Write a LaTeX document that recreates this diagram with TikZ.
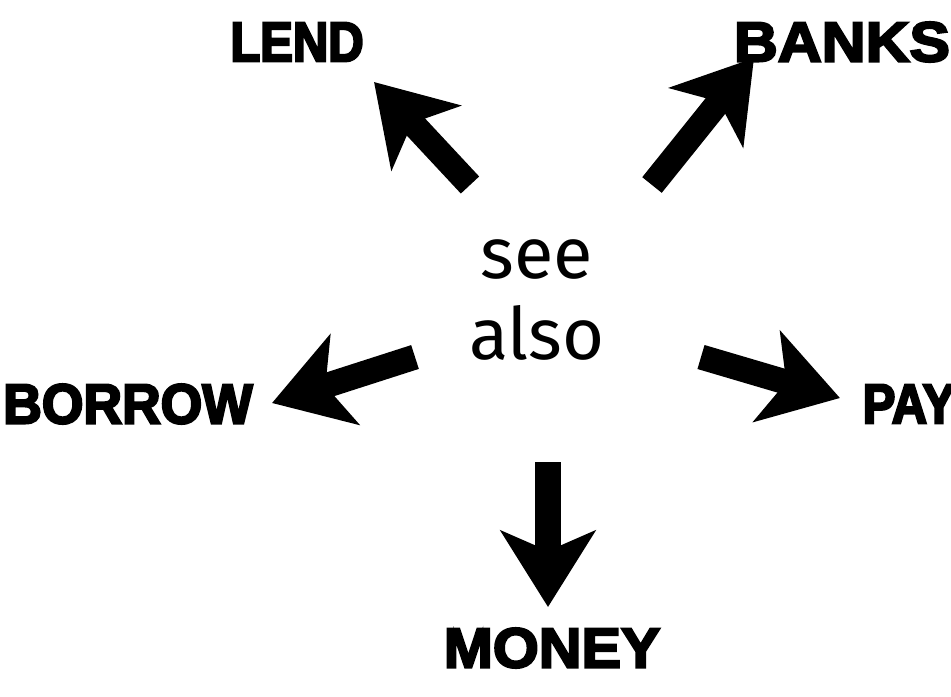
\documentclass[tikz,border=0pt]{standalone}
\usepackage{fontspec}
\setmainfont{Fira Sans}
\newcommand\heavyat[1]{\fontspec{Liberation Sans}[FakeBold=4, FakeStretch=#1]\bfseries}
\usetikzlibrary{arrows.meta}

\begin{document}
\begin{tikzpicture}[x=0.01cm, y=-0.01cm,
    word/.style={font=\heavyat{#1}\fontsize{16}{18}\selectfont, inner sep=0pt},
    word/.default=1,
    bigarrow/.style={line width=2.5mm, -{Stealth[length=7.6mm, width=9.4mm, inset=2mm]}}]
  \useasboundingbox (0,0) rectangle (951,696);
  % centre text
  \node[align=center, font=\fontsize{20.5}{23}\selectfont, inner sep=0pt] (see) at (537,300) {see\\also};
  % labels
  \node[word=0.87] (lend)   at (297,42)  {LEND};
  \node[word=1.08] (banks)  at (842,42)  {BANKS};
  \node[word=0.95] (borrow) at (128,404) {BORROW};
  \node[word=0.87, anchor=west] (pay) at (862,404) {PAY};
  \node[word=1.05] (money)  at (552,648) {MONEY};
  % arrow ends
  \coordinate (lendtail)   at (470,185);
  \coordinate (lendtip)    at (374,82);
  \coordinate (bankstail)  at (652,185);
  \coordinate (bankstip)   at (754,58);
  \coordinate (borrowtail) at (415,357);
  \coordinate (borrowtip)  at (272,403);
  \coordinate (paytail)    at (701,357);
  \coordinate (paytip)     at (840,398);
  \coordinate (moneytail)  at (548,462);
  \coordinate (moneytip)   at (548,607);
  \draw[bigarrow] (lendtail) -- (lendtip);
  \draw[bigarrow] (bankstail) -- (bankstip);
  \draw[bigarrow] (borrowtail) -- (borrowtip);
  \draw[bigarrow] (paytail) -- (paytip);
  \draw[bigarrow] (moneytail) -- (moneytip);
\end{tikzpicture}
\end{document}
